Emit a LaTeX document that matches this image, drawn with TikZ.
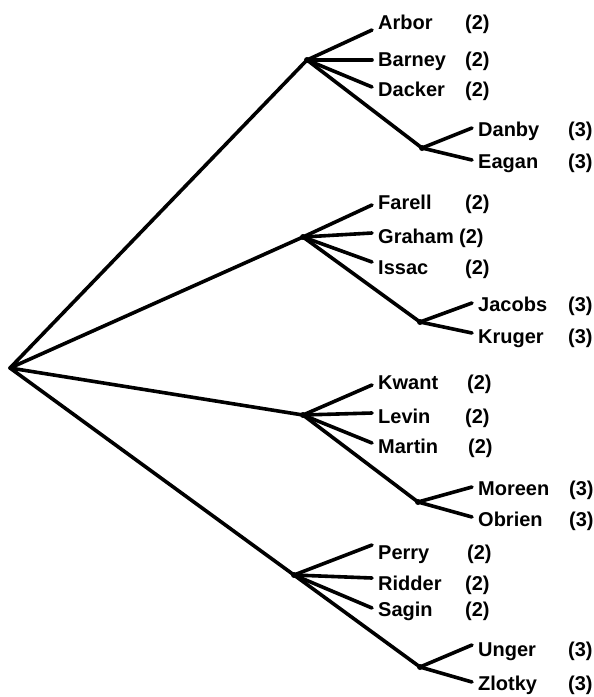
\documentclass[tikz,border=0pt]{standalone}
\usepackage{fontspec}
\setmainfont{Liberation Sans}
\begin{document}
\begin{tikzpicture}[x=1pt,y=-1pt,
  edge/.style={line width=3.6pt,line cap=round,line join=round},
  lbl/.style={inner sep=0pt,anchor=base west,font=\bfseries\fontsize{20}{20}\selectfont},
  hub/.style={circle,fill,inner sep=0pt,minimum size=6pt}]
\useasboundingbox (0,0) rectangle (594,697);
\coordinate (root) at (10,368);
% junctions
\node[hub] (J1) at (307,60) {};
\node[hub] (J2) at (303,237) {};
\node[hub] (J3) at (303,415) {};
\node[hub] (J4) at (294,575) {};
\node[hub] (S1) at (422,148) {};
\node[hub] (S2) at (420,322) {};
\node[hub] (S3) at (418,502) {};
\node[hub] (S4) at (420,667) {};
% leaves: name / line end y / baseline y / column x / number x / number / parent
\foreach \n/\ey/\ty/\tx/\nx/\num/\pa in {
  Arbor/30/29/378/465/2/J1, Barney/60/66/378/465/2/J1, Dacker/87/96/378/465/2/J1,
  Danby/128/136/478/568/3/S1, Eagan/160/168/478/568/3/S1,
  Farell/205/209/378/465/2/J2, Graham/233/243/378/459/2/J2, Issac/262/274/378/465/2/J2,
  Jacobs/303/311/478/568/3/S2, Kruger/333/343/478/568/3/S2,
  Kwant/385/389/378/467/2/J3, Levin/413/423/378/465/2/J3, Martin/443/453/378/468/2/J3,
  Moreen/487/495/478/569/3/S3, Obrien/517/526/478/569/3/S3,
  Perry/545/559/378/467/2/J4, Ridder/578/590/378/465/2/J4, Sagin/608/616/378/465/2/J4,
  Unger/645/656/478/568/3/S4, Zlotky/682/690/478/568/3/S4}{
  \pgfmathsetmacro{\ex}{\tx-6}
  \coordinate (e\n) at (\ex,\ey);
  \node[lbl] (t\n) at (\tx,\ty) {\n};
  \node[lbl] (n\n) at (\nx,\ty) {(\num)};
  \draw[edge] (\pa.center) -- (e\n);
}
\foreach \j in {J1,J2,J3,J4} \draw[edge] (root) -- (\j.center);
\draw[edge] (J1.center) -- (S1.center);
\draw[edge] (J2.center) -- (S2.center);
\draw[edge] (J3.center) -- (S3.center);
\draw[edge] (J4.center) -- (S4.center);
\end{tikzpicture}
\end{document}
